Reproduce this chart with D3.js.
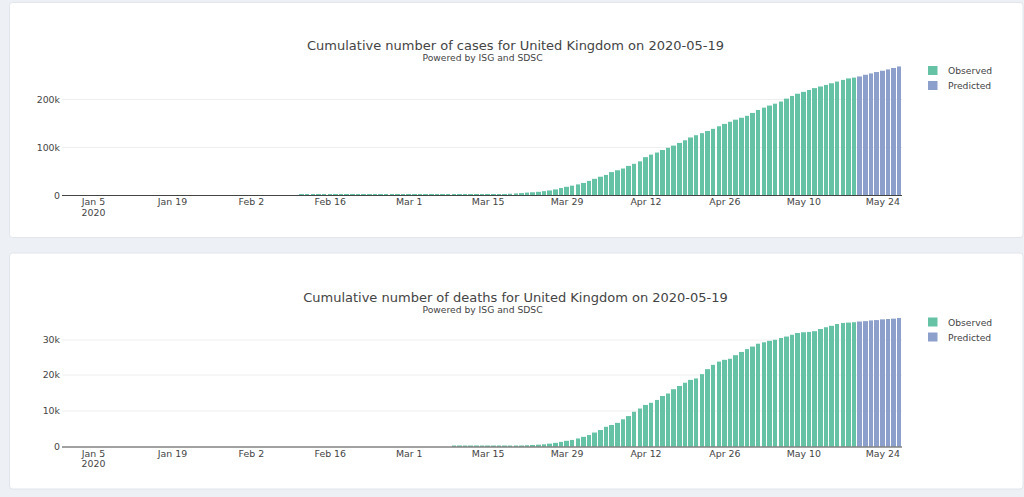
<!DOCTYPE html>
<html><head><meta charset="utf-8">
<script src="https://cdn.jsdelivr.net/npm/d3@7"></script>
<style>
html,body{margin:0;padding:0;background:#edf0f4;overflow:hidden;}
svg{display:block;font-family:"DejaVu Sans",Verdana,sans-serif;}
</style></head><body>
<svg id="c" width="1024" height="497"></svg>
<script>
// ---------------- data ----------------
const startDate = "2019-12-31";          // first bar (daily bars)
const country = "United Kingdom";
const reportDate = "2020-05-19";
const subtitle = "Powered by ISG and SDSC";
const seriesNames = ["Observed", "Predicted"];
const seriesColors = ["#66c2a5", "#8da0cb"];

// cumulative cases, 2019-12-31 .. 2020-05-19
const casesObserved = [
  0,                                                       // Dec 31
  0,0,0,0,0,0,0,0,0,0, 0,0,0,0,0,0,0,0,0,0, 0,0,0,0,0,0,0,0,0,0, 0, // Jan
  0,0,0,0,0,0,0,0,0,0,                                     // Feb 1-10
  8,8,9,9,9,9,9,9,9,9,9,9,9,13,13,13,13,15,20,             // Feb 11-29
  23,36,40,51,85,115,163,206,273,321,
  373,456,590,797,1061,1391,1543,1950,2626,3269,
  3983,5018,5683,6650,8077,9529,11658,14543,17089,19522,22141, // Mar
  25150,29474,33718,38168,41903,47806,51608,55242,60733,65077,
  70272,78991,84279,88621,93873,98476,103093,108692,114217,120067,
  124743,129044,133495,138078,143464,148377,152840,157149,161145,165221, // Apr
  171253,177454,182260,186599,190584,194990,201101,206715,211364,215260,
  219183,223060,226463,229705,233151,236711,240161,243303,244995 // May 1-19
];
// predicted, 2020-05-20 .. 2020-05-27
const casesPredicted = [247400,250900,253700,256600,259300,262100,265000,268300];

// cumulative deaths, 2019-12-31 .. 2020-05-19
const deathsObserved = [
  0,                                                       // Dec 31
  0,0,0,0,0,0,0,0,0,0, 0,0,0,0,0,0,0,0,0,0, 0,0,0,0,0,0,0,0,0,0, 0, // Jan
  0,0,0,0,0,0,0,0,0,0, 0,0,0,0,0,0,0,0,0,0, 0,0,0,0,0,0,0,0,0,     // Feb
  0,0,0,0,0,0,0,0,                                         // Mar 1-8
  3,6,8,10,21,35,55,71,104,144,177,233,281,348,422,506,612,795,1012,1284,1590,1830,2240, // Mar 9-31
  2700,3200,3900,4600,5500,6000,6600,7600,8500,9700,
  10600,11600,12200,13000,14100,14800,16000,16900,17800,18600,
  19000,20200,21600,22800,23700,24200,24500,25500,26400,27200, // Apr
  27900,28700,29100,29500,29800,30300,30700,31200,31700,31900,
  32000,32200,32800,33300,33700,34200,34500,34600,34700    // May 1-19
];
const deathsPredicted = [34900,35000,35200,35300,35500,35600,35700,35900];

const xTickDates  = ["2020-01-05","2020-01-19","2020-02-02","2020-02-16","2020-03-01","2020-03-15",
                     "2020-03-29","2020-04-12","2020-04-26","2020-05-10","2020-05-24"];
const xTickLabels = ["Jan 5","Jan 19","Feb 2","Feb 16","Mar 1","Mar 15",
                     "Mar 29","Apr 12","Apr 26","May 10","May 24"];
const xYearLabel = "2020";
const casesTicks = [0, 100000, 200000];
const casesTickLabels = ["0", "100k", "200k"];
const deathsTicks = [0, 10000, 20000, 30000];
const deathsTickLabels = ["0", "10k", "20k", "30k"];

// ---------------- drawing ----------------
const svg = d3.select("#c");
const parse = d3.utcParse("%Y-%m-%d");
const start = parse(startDate);
const M = {left: 62, right: 902, top: 60, bottom: 195};
const textColor = "#444";

function panel(y, h) {
  svg.append("rect").attr("x", 9.5).attr("y", y).attr("width", 1013.5).attr("height", h)
    .attr("rx", 3).attr("fill", "#fff").attr("stroke", "#e1e4ea").attr("stroke-width", 1);
}

function drawChart(offsetY, title, observed, predicted, ticks, tickLabels) {
  const g = svg.append("g").attr("transform", `translate(0,${offsetY})`);
  const data = observed.map((v, i) => ({date: d3.utcDay.offset(start, i), v, s: 0}))
    .concat(predicted.map((v, i) => ({date: d3.utcDay.offset(start, observed.length + i), v, s: 1})));
  const first = data[0].date, last = data[data.length - 1].date;
  const x = d3.scaleUtc()
    .domain([d3.utcHour.offset(first, -12), d3.utcHour.offset(last, 12)])
    .range([M.left, M.right]);
  const dayPx = x(d3.utcDay.offset(first, 1)) - x(first);
  const y = d3.scaleLinear().domain([0, d3.max(data, d => d.v) * 1.05]).range([M.bottom, M.top]);

  // gridlines
  g.append("g").selectAll("line").data(ticks.filter(t => t > 0)).join("line")
    .attr("x1", M.left).attr("x2", M.right)
    .attr("y1", d => Math.round(y(d)) + 0.5).attr("y2", d => Math.round(y(d)) + 0.5)
    .attr("stroke", "#eee").attr("stroke-width", 1);

  // bars
  g.append("g").selectAll("rect").data(data.filter(d => d.v > 0)).join("rect")
    .attr("x", d => Math.round(x(d.date) - 0.4 * dayPx))
    .attr("width", d => Math.round(x(d.date) + 0.4 * dayPx) - Math.round(x(d.date) - 0.4 * dayPx))
    .attr("y", d => Math.min(M.bottom - 1, y(d.v)))
    .attr("height", d => Math.max(1, M.bottom - y(d.v)))
    .attr("fill", d => seriesColors[d.s]);

  // x axis line
  g.append("line").attr("x1", M.left).attr("x2", M.right)
    .attr("y1", M.bottom + 0.5).attr("y2", M.bottom + 0.5)
    .attr("stroke", textColor).attr("stroke-width", 1);

  // x axis labels
  const xa = g.append("g").attr("transform", `translate(0,${M.bottom})`)
    .call(d3.axisBottom(x).tickValues(xTickDates.map(parse))
      .tickFormat((d, i) => xTickLabels[i]).tickSize(0).tickPadding(10));
  xa.select(".domain").remove();
  xa.selectAll("text").attr("font-size", 9.4).attr("fill", textColor)
    .attr("font-family", "DejaVu Sans, Verdana, sans-serif").attr("dy", 0);
  xa.select(".tick text").append("tspan").attr("x", 0).attr("dy", "1.15em").text(xYearLabel);

  // y axis labels
  const ya = g.append("g").attr("transform", `translate(${M.left},0)`)
    .call(d3.axisLeft(y).tickValues(ticks).tickFormat((d, i) => tickLabels[i]).tickSize(0).tickPadding(2));
  ya.select(".domain").remove();
  ya.selectAll("text").attr("font-size", 9.4).attr("fill", textColor)
    .attr("font-family", "DejaVu Sans, Verdana, sans-serif");

  // titles
  g.append("text").attr("x", 515.5).attr("y", 50).attr("text-anchor", "middle")
    .attr("font-size", 13).attr("fill", textColor).text(title);
  g.append("text").attr("x", 482.5).attr("y", 61).attr("text-anchor", "middle")
    .attr("font-size", 9.2).attr("fill", textColor).text(subtitle);

  // legend
  const lg = g.append("g");
  seriesNames.forEach((n, i) => {
    lg.append("rect").attr("x", 928).attr("y", 66 + i * 15).attr("width", 9.5).attr("height", 9)
      .attr("fill", seriesColors[i]);
    lg.append("text").attr("x", 948).attr("y", 74 + i * 15).attr("font-size", 9.2)
      .attr("fill", textColor).text(n);
  });
}

panel(2.5, 235);
panel(253, 236);
drawChart(0, `Cumulative number of cases for ${country} on ${reportDate}`,
  casesObserved, casesPredicted, casesTicks, casesTickLabels);
drawChart(251.5, `Cumulative number of deaths for ${country} on ${reportDate}`,
  deathsObserved, deathsPredicted, deathsTicks, deathsTickLabels);
</script>
</body></html>
